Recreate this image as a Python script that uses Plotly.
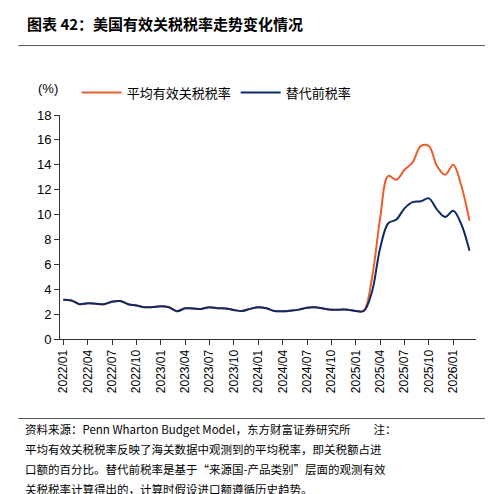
import plotly.graph_objects as go

months = [f"{y}/{m:02d}" for y in range(2022, 2027) for m in range(1, 13)][:51]
avg_rate = [3.16,3.1,2.8,2.87,2.84,2.8,3.0,3.05,2.8,2.7,2.55,2.57,2.63,2.55,2.23,2.47,2.45,2.42,2.55,2.47,2.45,2.33,2.25,2.42,2.55,2.47,2.25,2.23,2.28,2.36,2.52,2.55,2.45,2.36,2.36,2.36,2.25,2.3,4.9,9.7,13.1,12.8,13.6,14.2,15.5,15.5,13.9,13.2,14.0,12.3,9.5]
pre_rate = [3.16,3.1,2.8,2.87,2.84,2.8,3.0,3.05,2.8,2.7,2.55,2.57,2.63,2.55,2.23,2.47,2.45,2.42,2.55,2.47,2.45,2.33,2.25,2.42,2.55,2.47,2.25,2.23,2.28,2.36,2.52,2.55,2.45,2.36,2.36,2.36,2.25,2.25,3.8,7.3,9.3,9.6,10.5,11.0,11.07,11.3,10.4,9.8,10.3,9.2,7.1]
tick_labels = months[::3]

idx = list(range(len(months)))
F = "Liberation Sans, Noto Sans CJK SC"
fig = go.Figure()
fig.add_trace(go.Scatter(x=idx, y=avg_rate, mode="lines", name="平均有效关税税率",
                         line=dict(color="#E8612C", width=2, shape="spline")))
fig.add_trace(go.Scatter(x=idx, y=pre_rate, mode="lines", name="替代前税率",
                         line=dict(color="#0F2A6B", width=2, shape="spline")))
fig.update_layout(
    width=493, height=494, plot_bgcolor="white", paper_bgcolor="white",
    margin=dict(l=52, r=25, t=107, b=163),
    font=dict(family=F, color="black", size=12),
    showlegend=True,
    legend=dict(orientation="h", x=0.04, y=1.10, xanchor="left", yanchor="middle",
                font=dict(size=13, family="Noto Sans CJK SC"), itemwidth=40,
                tracegroupgap=40),
    xaxis=dict(tickmode="array", tickvals=idx[::3], ticktext=tick_labels, automargin=False,
               tickangle=-90, range=[-0.4, 50.8], showgrid=False,
               showline=True, linecolor="#333", ticks="outside", ticklen=5,
               tickcolor="#333", tickfont=dict(size=12)),
    yaxis=dict(range=[0, 18], dtick=2, showgrid=False, showline=True, linecolor="#333",
               automargin=False,
               ticks="outside", ticklen=5, tickcolor="#333", tickfont=dict(size=13)),
)
fig.add_annotation(text="<b>图表 42：美国有效关税税率走势变化情况</b>", xref="paper", yref="paper",
                   x=-0.085, y=1.41, xanchor="left", yanchor="middle", showarrow=False,
                   font=dict(size=15, family="Noto Sans CJK SC"))
fig.add_shape(type="line", xref="paper", yref="paper", x0=-0.1, x1=1.04, y0=1.31, y1=1.31,
              line=dict(color="#555", width=1))
fig.add_annotation(text="(%)", xref="paper", yref="paper", x=-0.03, y=1.12, xanchor="center",
                   yanchor="middle", showarrow=False, font=dict(size=13))
fig.add_shape(type="line", xref="paper", yref="paper", x0=-0.1, x1=1.04, y0=-0.355, y1=-0.355,
              line=dict(color="#555", width=1))
notes = ["资料来源：Penn Wharton Budget Model，东方财富证券研究所　　注：",
         "平均有效关税税率反映了海关数据中观测到的平均税率，即关税额占进",
         "口额的百分比。替代前税率是基于\u201c来源国-产品类别\u201d层面的观测有效",
         "关税税率计算得出的，计算时假设进口额遵循历史趋势。"]
for k, t in enumerate(notes):
    fig.add_annotation(text=t, xref="paper", yref="paper", x=-0.09, y=-0.40 - k*0.09,
                       xanchor="left", yanchor="middle", showarrow=False,
                       font=dict(size=11.5, family="Noto Sans CJK SC"))
fig.write_html("out.html")
